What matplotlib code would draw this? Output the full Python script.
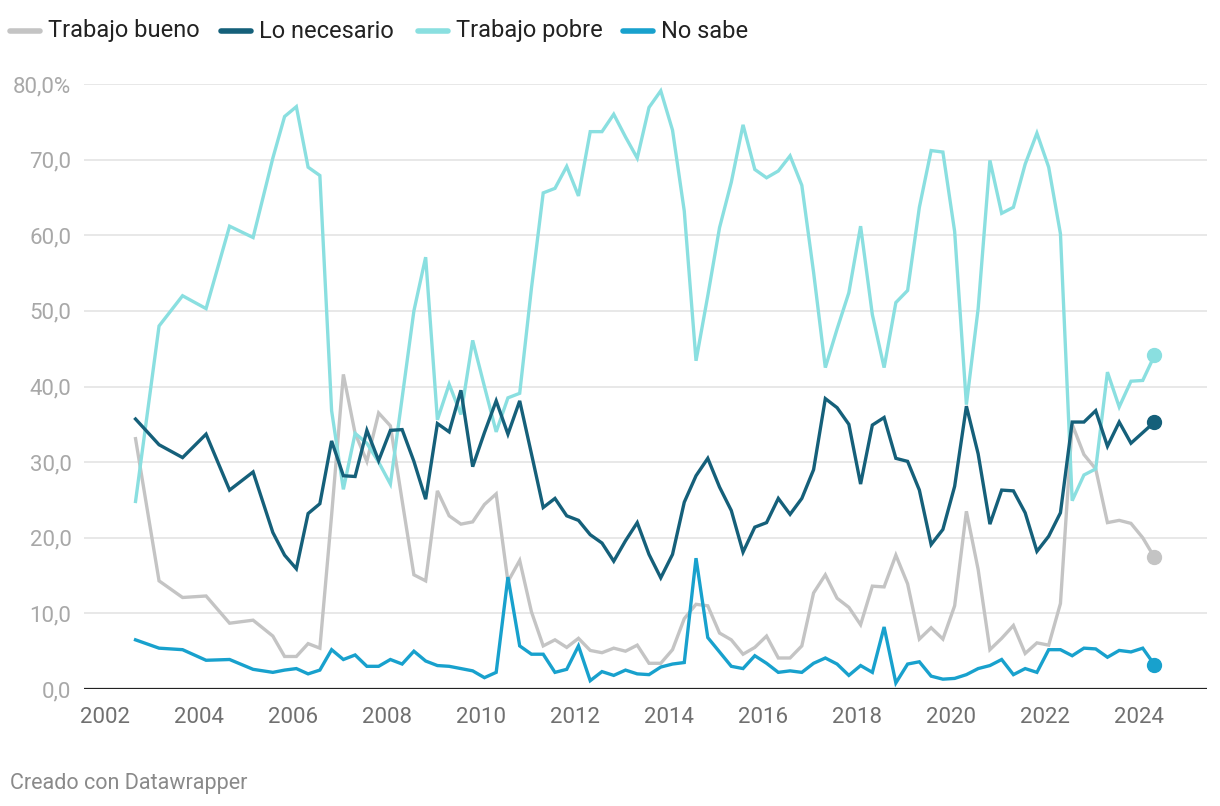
import matplotlib
matplotlib.use("Agg")
import matplotlib.pyplot as plt
from matplotlib.lines import Line2D

plt.rcParams['font.family'] = ['Roboto', 'DejaVu Sans']

# fechas de las encuestas (año decimal)
fechas = [2002.66, 2003.16, 2003.66, 2004.16, 2004.66, 2005.16] + \
    [2005.58 + 0.25 * i for i in range(76)]

trabajo_bueno = [
    33.1, 14.3, 12.1, 12.3, 8.7, 9.1, 7.0, 4.3, 4.3, 6.0,
    5.4, 23.0, 41.6, 33.8, 30.1, 36.5, 34.8, 24.9, 15.1, 14.3,
    26.2, 22.9, 21.8, 22.1, 24.4, 25.8, 14.2, 17.0, 10.2, 5.7,
    6.5, 5.5, 6.7, 5.1, 4.8, 5.4, 5.0, 5.8, 3.4, 3.4,
    5.2, 9.3, 11.2, 11.0, 7.4, 6.5, 4.6, 5.5, 7.0, 4.1,
    4.1, 5.7, 12.7, 15.1, 12.0, 10.8, 8.5, 13.6, 13.5, 17.7,
    13.9, 6.6, 8.1, 6.6, 11.0, 23.5, 15.8, 5.2, 6.7, 8.4,
    4.7, 6.1, 5.8, 11.3, 35.0, 31.0, 29.1, 22.0, 22.3, 21.9,
    20.0, 17.4,
]
lo_necesario = [
    35.7, 32.3, 30.6, 33.7, 26.3, 28.7, 20.7, 17.7, 15.9, 23.2,
    24.5, 32.8, 28.2, 28.1, 34.2, 30.2, 34.2, 34.3, 30.1, 25.1,
    35.1, 34.0, 39.5, 29.4, 33.9, 38.1, 33.7, 38.1, 31.1, 24.0,
    25.2, 22.9, 22.3, 20.4, 19.3, 16.9, 19.6, 22.0, 17.8, 14.7,
    17.8, 24.7, 28.2, 30.5, 26.7, 23.6, 18.1, 21.4, 22.0, 25.2,
    23.1, 25.2, 29.0, 38.4, 37.2, 35.0, 27.1, 34.9, 35.9, 30.5,
    30.1, 26.3, 19.1, 21.1, 26.8, 37.4, 31.1, 21.8, 26.3, 26.2,
    23.3, 18.2, 20.2, 23.3, 35.3, 35.3, 36.8, 32.1, 35.3, 32.5,
    33.9, 35.3,
]
trabajo_pobre = [
    24.8, 48.0, 52.0, 50.3, 61.2, 59.7, 70.2, 75.7, 77.0, 69.0,
    67.9, 36.8, 26.4, 33.8, 32.5, 30.0, 27.1, 38.5, 50.0, 57.1,
    35.6, 40.3, 36.3, 46.1, 40.0, 34.0, 38.5, 39.1, 53.0, 65.6,
    66.2, 69.1, 65.2, 73.7, 73.7, 76.0, 73.0, 70.2, 76.9, 79.1,
    73.9, 63.2, 43.4, 52.0, 61.0, 67.0, 74.6, 68.7, 67.6, 68.5,
    70.5, 66.6, 55.1, 42.5, 47.6, 52.4, 61.2, 49.5, 42.5, 51.1,
    52.7, 63.7, 71.2, 71.0, 60.5, 37.6, 50.3, 69.9, 62.9, 63.7,
    69.4, 73.5, 69.0, 60.2, 24.9, 28.3, 29.1, 41.9, 37.3, 40.7,
    40.8, 44.1,
]
no_sabe = [
    6.5, 5.4, 5.2, 3.8, 3.9, 2.6, 2.2, 2.5, 2.7, 2.0,
    2.5, 5.2, 3.9, 4.5, 3.0, 3.0, 3.9, 3.3, 5.0, 3.7,
    3.1, 3.0, 2.7, 2.4, 1.5, 2.2, 14.8, 5.7, 4.6, 4.6,
    2.2, 2.6, 5.7, 1.1, 2.3, 1.8, 2.5, 2.0, 1.9, 2.9,
    3.3, 3.5, 17.3, 6.8, 4.9, 3.0, 2.7, 4.4, 3.4, 2.2,
    2.4, 2.2, 3.4, 4.1, 3.3, 1.8, 3.1, 2.2, 8.2, 0.8,
    3.3, 3.6, 1.7, 1.3, 1.4, 1.9, 2.7, 3.1, 3.9, 1.9,
    2.7, 2.2, 5.2, 5.2, 4.4, 5.4, 5.3, 4.2, 5.1, 4.9,
    5.4, 3.2,
]

series = [
    ("Trabajo bueno", trabajo_bueno, "#c4c4c4", 2),
    ("Lo necesario", lo_necesario, "#15607a", 4),
    ("Trabajo pobre", trabajo_pobre, "#8adfe0", 3),
    ("No sabe", no_sabe, "#18a1cd", 5),
]

anos = list(range(2002, 2025, 2))
yticks = list(range(0, 81, 10))

fig = plt.figure(figsize=(12.2, 8.06), dpi=100)
ax = fig.add_axes([84 / 1220, 1 - 689 / 806, (1207 - 84) / 1220, (689 - 84) / 806])

for nombre, vals, color, z in series:
    ax.plot(fechas, vals, color=color, lw=2.4, zorder=z, solid_joinstyle='miter')
    ax.plot(fechas[-1], vals[-1], 'o', color=color, ms=10, zorder=z, clip_on=False)

ax.set_xlim(2001.564, 2025.447)
ax.set_ylim(0, 80)
ax.set_yticks(yticks)
ax.set_yticklabels([f"{v:.1f}".replace('.', ',') + ("%" if v == 80 else "") for v in yticks])
ax.set_xticks(anos)
ax.set_xticklabels([str(a) for a in anos])
ax.grid(axis='y', color='#e4e4e4', lw=1.2, zorder=0)
ax.axhline(0, color='#222222', lw=1.6, zorder=6)
for s in ax.spines.values():
    s.set_visible(False)
ax.tick_params(axis='y', length=0, pad=9, labelsize=16, labelcolor='#a8a8a8')
ax.tick_params(axis='x', length=0, pad=13, labelsize=16, labelcolor='#707070')

# leyenda arriba
leyenda_x = [10, 221, 418, 623]
for (nombre, vals, color, z), x0 in zip(series, leyenda_x):
    fig.add_artist(Line2D([x0 / 1220, (x0 + 30) / 1220], [1 - 31 / 806] * 2,
                          color=color, lw=4, solid_capstyle='round',
                          transform=fig.transFigure))
    fig.text((x0 + 38) / 1220, 1 - 31 / 806, nombre, fontsize=17,
             color='#222222', va='center', ha='left')

fig.text(10 / 1220, 1 - 783 / 806, "Creado con Datawrapper", fontsize=15.5,
         color='#8a8a8a', va='center', ha='left')

fig.savefig("out.png", dpi=100)
